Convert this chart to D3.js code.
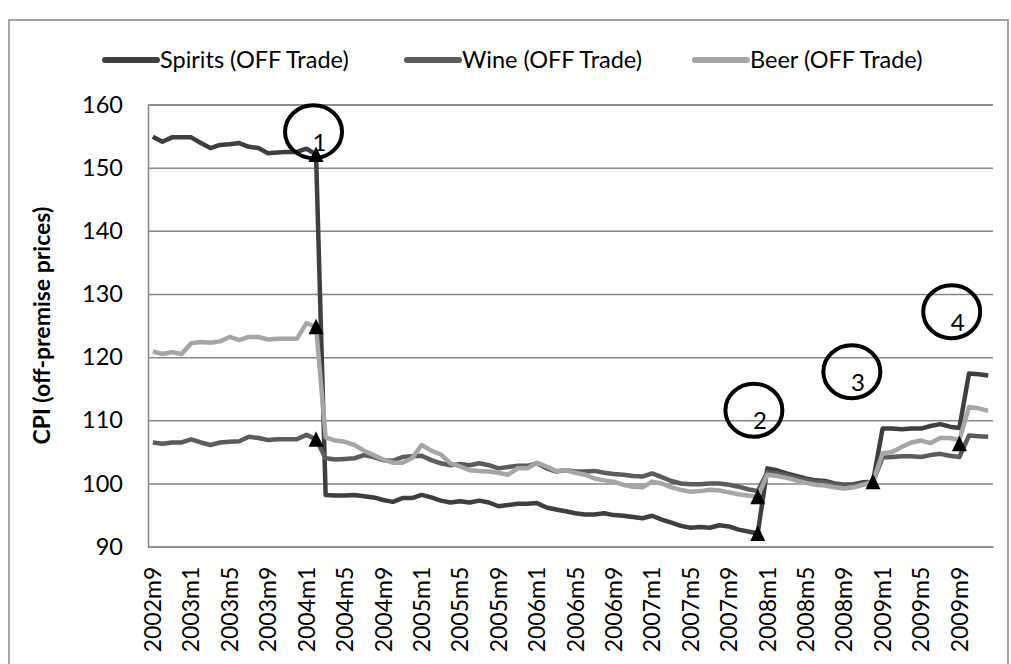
<!DOCTYPE html>
<html>
<head>
<meta charset="utf-8">
<script src="https://cdn.jsdelivr.net/npm/d3@7"></script>
<style>
  body { margin: 0; background: #fff; }
  svg { display: block; }
  text { font-family: Lato, "Open Sans", sans-serif; fill: #000; }
</style>
</head>
<body>
<svg id="chart" width="1011" height="664"></svg>
<script>
// Monthly categories, 2002m9 .. 2009m12
const startYear = 2002, startMonth = 9, monthCount = 88;
const months = d3.range(monthCount).map(k => {
  const t = (startMonth - 1) + k;
  return (startYear + Math.floor(t / 12)) + "m" + (t % 12 + 1);
});

// Labelled categories on the x axis (every fourth month)
const xTickLabels = ["2002m9","2003m1","2003m5","2003m9","2004m1","2004m5","2004m9","2005m1",
  "2005m5","2005m9","2006m1","2006m5","2006m9","2007m1","2007m5","2007m9","2008m1","2008m5",
  "2008m9","2009m1","2009m5","2009m9"];
const yTicks = [90, 100, 110, 120, 130, 140, 150, 160];

// CPI, off-premise prices
const spirits = [
  154.9,154.1,154.8,154.8,154.8,153.9,153.1,153.6,153.7,153.9,153.3,153.1,152.3,152.4,152.5,152.5,153.0,152.1,
  98.2,98.1,98.1,98.2,98.0,97.8,97.4,97.1,97.7,97.7,98.2,97.8,97.3,97.0,97.2,97.0,97.3,97.0,96.4,96.6,96.8,96.8,96.9,96.2,95.9,
  95.6,95.3,95.1,95.1,95.3,95.0,94.9,94.7,94.5,94.9,94.3,93.8,93.3,93.0,93.1,93.0,93.4,93.2,92.7,92.4,92.1,
  102.4,102.1,101.6,101.2,100.8,100.5,100.4,100.0,99.8,99.9,100.2,100.3,
  108.7,108.7,108.6,108.7,108.7,109.1,109.4,109.0,108.8,117.4,117.3,117.1
];
const wine = [
  106.5,106.3,106.5,106.5,107.0,106.5,106.1,106.5,106.6,106.7,107.4,107.2,106.9,107.0,107.0,107.0,107.7,107.0,
  104.0,103.8,103.9,104.0,104.5,104.2,103.7,103.6,104.2,104.3,104.4,103.7,103.2,102.9,103.1,102.9,103.2,102.9,102.4,102.6,102.8,102.8,103.2,102.4,101.9,
  102.1,101.9,101.9,102.0,101.7,101.5,101.4,101.2,101.1,101.6,101.0,100.4,100.0,99.9,99.9,100.0,100.0,99.8,99.5,99.1,98.8,
  101.8,101.6,101.3,100.9,100.6,100.3,100.2,99.9,99.6,99.7,100.0,100.3,
  104.1,104.2,104.3,104.3,104.2,104.5,104.7,104.4,104.2,107.6,107.5,107.4
];
const beer = [
  120.9,120.5,120.8,120.5,122.2,122.4,122.3,122.5,123.2,122.7,123.2,123.2,122.8,122.9,122.9,122.9,125.4,124.8,
  107.3,106.8,106.6,106.1,105.2,104.5,103.8,103.3,103.3,104.0,106.1,105.2,104.6,103.2,102.7,102.1,102.0,101.9,101.7,101.4,102.4,102.4,103.3,102.7,102.0,
  102.1,101.7,101.4,100.8,100.5,100.3,99.8,99.5,99.4,100.3,100.0,99.4,99.0,98.7,98.8,99.0,98.9,98.6,98.3,98.1,97.9,
  101.4,101.2,100.9,100.5,100.1,99.8,99.7,99.4,99.2,99.4,99.8,100.3,
  104.8,105.0,105.8,106.5,106.8,106.4,107.2,107.2,106.9,112.1,111.9,111.5
];

const seriesNames = ["Spirits (OFF Trade)", "Wine (OFF Trade)", "Beer (OFF Trade)"];
const seriesValues = [spirits, wine, beer];
const seriesColors = ["#3f3f3f", "#5c5c5c", "#a6a6a6"];

// Triangle markers at the price-change points
const markerMonths = ["2004m2", "2004m2", "2004m2", "2007m12", "2007m12", "2008m12", "2009m9"];
const markerValues = [152.1, 124.8, 107.0, 97.9, 92.1, 100.3, 106.3];

// Numbered call-out circles (fractional month position, value)
const calloutLabels = ["1", "2", "3", "4"];
const calloutPos = [16.74, 62.6, 72.8, 83.2];
const calloutValues = [155.7, 111.6, 117.7, 127.2];

const svg = d3.select("#chart");
const plot = { left: 148, right: 993, top: 104.5, bottom: 546.7 };

// Outer chart frame
svg.append("rect")
  .attr("x", 9).attr("y", 20).attr("width", 999).attr("height", 700)
  .attr("fill", "none").attr("stroke", "#878787").attr("stroke-width", 1.5);

const x = d3.scaleBand().domain(months).range([plot.left, plot.right]).padding(0);
const cx = m => x(m) + x.bandwidth() / 2;
const xf = f => plot.left + x.bandwidth() * (f + 0.5);
const y = d3.scaleLinear().domain([90, 160]).range([plot.bottom, plot.top]);

// Horizontal gridlines and value axis
const yAxis = svg.append("g")
  .attr("transform", `translate(${plot.left},0)`)
  .call(d3.axisLeft(y).tickValues(yTicks).tickSize(-(plot.right - plot.left)).tickPadding(25).tickFormat(d3.format("d")));
yAxis.select(".domain").attr("stroke", "#878787").attr("stroke-width", 1.5);
yAxis.selectAll(".tick line").attr("stroke", "#878787").attr("stroke-width", 1.5);
yAxis.selectAll(".tick text")
  .style("font-family", "Lato, sans-serif").style("font-size", "23.5px").attr("fill", "#000");

// Category axis
const xAxis = svg.append("g")
  .attr("transform", `translate(0,${plot.bottom})`)
  .call(d3.axisBottom(x).tickValues(xTickLabels).tickSize(0));
xAxis.select(".domain").attr("stroke", "#878787").attr("stroke-width", 1.5);
xAxis.selectAll(".tick text")
  .style("font-family", "Lato, sans-serif").style("font-size", "23px").attr("fill", "#000")
  .attr("transform", "rotate(-90)")
  .attr("text-anchor", "end")
  .attr("x", -20).attr("y", 0).attr("dy", "0.36em");

// Value axis title
svg.append("text")
  .attr("transform", `translate(50,${(plot.top + plot.bottom) / 2}) rotate(-90)`)
  .attr("text-anchor", "middle")
  .style("font-size", "23px").style("font-weight", "bold")
  .text("CPI (off-premise prices)");

// Series lines
const line = d3.line().x((d, i) => cx(months[i])).y(d => y(d)).curve(d3.curveLinear);
svg.append("g").selectAll("path")
  .data(seriesValues)
  .join("path")
  .attr("d", line)
  .attr("fill", "none")
  .attr("stroke", (d, i) => seriesColors[i])
  .attr("stroke-width", 4.5)
  .attr("stroke-linejoin", "round");

// Triangle markers
const tri = "M0,-8L7.5,7.5L-7.5,7.5Z";
svg.append("g").selectAll("path")
  .data(markerMonths.map((m, i) => [m, markerValues[i]]))
  .join("path")
  .attr("transform", d => `translate(${cx(d[0])},${y(d[1])})`)
  .attr("d", tri)
  .attr("fill", "#000");

// Call-out circles with numbers
const callouts = svg.append("g").selectAll("g")
  .data(calloutLabels.map((t, i) => ({ t, f: calloutPos[i], v: calloutValues[i] })))
  .join("g")
  .attr("transform", d => `translate(${xf(d.f)},${y(d.v)})`);
callouts.append("ellipse")
  .attr("rx", 28.5).attr("ry", 26.5)
  .attr("fill", "none").attr("stroke", "#000").attr("stroke-width", 4);
callouts.append("text")
  .attr("x", 6).attr("y", 19)
  .attr("text-anchor", "middle")
  .style("font-size", "24px")
  .text(d => d.t);

// Legend
const legendX = [103, 405, 693];
const legendY = 60;
const legend = svg.append("g").selectAll("g")
  .data(seriesNames.map((n, i) => ({ n, i })))
  .join("g")
  .attr("transform", d => `translate(${legendX[d.i]},${legendY})`);
legend.append("line")
  .attr("x1", 2).attr("x2", 54).attr("y1", 0).attr("y2", 0)
  .attr("stroke", d => seriesColors[d.i]).attr("stroke-width", 6).attr("stroke-linecap", "round");
legend.append("text")
  .attr("x", 57).attr("y", 0).attr("dy", "0.35em")
  .style("font-size", "23.5px")
  .text(d => d.n);
</script>
</body>
</html>
